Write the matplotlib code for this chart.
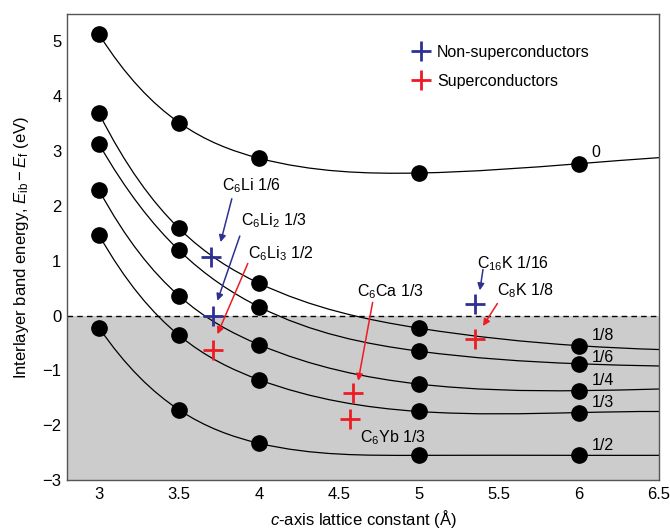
import numpy as np
import matplotlib
matplotlib.use("Agg")
import matplotlib.pyplot as plt
from matplotlib.path import Path
from matplotlib.patches import PathPatch
from matplotlib.lines import Line2D

plt.rcParams['font.family'] = ['Liberation Sans', 'DejaVu Sans']
plt.rcParams['mathtext.fontset'] = 'custom'
plt.rcParams['mathtext.rm'] = 'Liberation Sans'
plt.rcParams['mathtext.it'] = 'Liberation Sans:italic'

# computed points (c-axis lattice constant, band energy)
c_pts = [3.0, 3.5, 4.0, 5.0, 6.0]
doping = ['0', '1/8', '1/6', '1/4', '1/3', '1/2']
energy = {
    '0':   [5.13, 3.52, 2.87, 2.60, 2.77],
    '1/8': [3.69, 1.59, 0.59, -0.23, -0.55],
    '1/6': [3.13, 1.19, 0.16, -0.65, -0.88],
    '1/4': [2.29, 0.36, -0.53, -1.25, -1.37],
    '1/3': [1.47, -0.36, -1.17, -1.75, -1.77],
    '1/2': [-0.22, -1.72, -2.33, -2.55, -2.55],
}
# where each guide curve leaves the frame at c = 6.5
edge_val = {'0': 2.88, '1/8': -0.62, '1/6': -0.92, '1/4': -1.34, '1/3': -1.75, '1/2': -2.55}
label_y = {'0': 2.97, '1/8': -0.36, '1/6': -0.77, '1/4': -1.19, '1/3': -1.59, '1/2': -2.37}

# real compounds
non_sc_c = [3.70, 3.71, 5.35]
non_sc_e = [1.07, 0.00, 0.21]
sc_c = [3.71, 4.59, 4.57, 5.35]
sc_e = [-0.62, -1.42, -1.88, -0.43]


def spline_path(xs, ys):
    # not-a-knot cubic spline through the points, drawn as bezier segments
    xs = np.asarray(xs, float)
    ys = np.asarray(ys, float)
    n = len(xs)
    h = np.diff(xs)
    A = np.zeros((n, n))
    b = np.zeros(n)
    A[0, 0], A[0, 1], A[0, 2] = h[1], -(h[0] + h[1]), h[0]
    A[-1, -3], A[-1, -2], A[-1, -1] = h[-1], -(h[-2] + h[-1]), h[-2]
    for i in range(1, n - 1):
        A[i, i - 1] = h[i - 1]
        A[i, i] = 2 * (h[i - 1] + h[i])
        A[i, i + 1] = h[i]
        b[i] = 6 * ((ys[i + 1] - ys[i]) / h[i] - (ys[i] - ys[i - 1]) / h[i - 1])
    M = np.linalg.solve(A, b)
    m = np.zeros(n)
    for i in range(n - 1):
        m[i] = (ys[i + 1] - ys[i]) / h[i] - h[i] * (2 * M[i] + M[i + 1]) / 6
    m[-1] = (ys[-1] - ys[-2]) / h[-1] + h[-1] * (M[-2] + 2 * M[-1]) / 6
    verts = [(xs[0], ys[0])]
    codes = [Path.MOVETO]
    for i in range(n - 1):
        d = h[i] / 3
        verts += [(xs[i] + d, ys[i] + m[i] * d),
                  (xs[i + 1] - d, ys[i + 1] - m[i + 1] * d),
                  (xs[i + 1], ys[i + 1])]
        codes += [Path.CURVE4] * 3
    return Path(verts, codes)


fig = plt.figure(figsize=(6.7, 5.29), dpi=100)
ax = fig.add_axes([0.100, 0.0926, 0.8836, 0.8809])

ax.axhspan(-3, 0, color='#cccccc', zorder=0, lw=0)
ax.axhline(0, color='black', ls=(0, (4, 3)), lw=1, zorder=1)

for k in doping:
    xs = c_pts + [6.5]
    ys = energy[k] + [edge_val[k]]
    ax.add_patch(PathPatch(spline_path(xs, ys), fc='none', ec='black', lw=0.9, zorder=2))
    ax.plot(c_pts, energy[k], 'o', color='black', ms=11, zorder=3)
    ax.text(6.08, label_y[k], k, fontsize=11.5, ha='left', va='center')

blue = '#2e3192'
red = '#ed1c24'
ax.plot(non_sc_c, non_sc_e, '+', color=blue, ms=15, mew=2, zorder=4)
ax.plot(sc_c, sc_e, '+', color=red, ms=15, mew=2, zorder=4)

# (label text, text pos, arrow start, arrow end, colour)
notes = [
    ('C$_6$Li 1/6', (3.77, 2.37), (3.83, 2.13), (3.76, 1.34), blue),
    ('C$_6$Li$_2$ 1/3', (3.89, 1.73), (3.88, 1.45), (3.74, 0.27), blue),
    ('C$_6$Li$_3$ 1/2', (3.93, 1.13), (3.93, 0.95), (3.74, -0.34), red),
    ('C$_6$Ca 1/3', (4.61, 0.44), (4.71, 0.24), (4.62, -1.19), red),
    ('C$_{16}$K 1/16', (5.36, 0.95), (5.40, 0.84), (5.38, 0.46), blue),
    ('C$_8$K 1/8', (5.49, 0.46), (5.49, 0.22), (5.40, -0.19), red),
]
for txt, tpos, a0, a1, col in notes:
    ax.text(tpos[0], tpos[1], txt, fontsize=11.5, ha='left', va='center')
    ax.annotate('', xy=a1, xytext=a0,
                arrowprops=dict(arrowstyle='-|>', color=col, lw=1.1,
                                mutation_scale=10, shrinkA=0, shrinkB=0))
ax.text(4.63, -2.23, 'C$_6$Yb 1/3', fontsize=11.5, ha='left', va='center')

handles = [Line2D([], [], ls='none', marker='+', color=blue, ms=15, mew=2),
           Line2D([], [], ls='none', marker='+', color=red, ms=15, mew=2)]
ax.legend(handles, ['Non-superconductors', 'Superconductors'],
          loc='upper left', bbox_to_anchor=(0.56, 0.965), frameon=False,
          fontsize=11.5, handlelength=1.0, handletextpad=0.5, labelspacing=0.9)

ax.set_xlim(2.8, 6.5)
ax.set_ylim(-3, 5.5)
ax.set_xticks([3, 3.5, 4, 4.5, 5, 5.5, 6, 6.5])
ax.set_xticklabels(['3', '3.5', '4', '4.5', '5', '5.5', '6', '6.5'])
ax.set_yticks([-3, -2, -1, 0, 1, 2, 3, 4, 5])
ax.set_yticklabels(['\u22123', '\u22122', '\u22121', '0', '1', '2', '3', '4', '5'])
ax.tick_params(length=0, labelsize=12)
ax.tick_params(axis='x', pad=5)
ax.tick_params(axis='y', pad=4)
for sp in ax.spines.values():
    sp.set_color('#555555')
    sp.set_linewidth(1.0)

ax.set_xlabel('$c$-axis lattice constant (\u00c5)', fontsize=12, labelpad=4)
ax.set_ylabel('Interlayer band energy, $E_{\\rm ib} - E_{\\rm f}$ (eV)', fontsize=12, labelpad=8)

fig.savefig('out.png', dpi=100)
